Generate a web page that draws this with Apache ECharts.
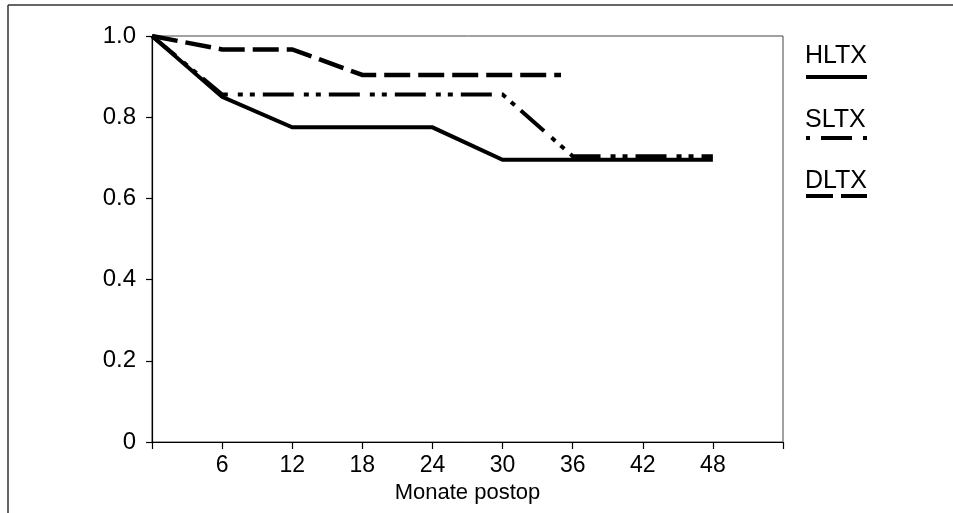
<!DOCTYPE html>
<html>
<head>
<meta charset="utf-8">
<script src="https://cdn.jsdelivr.net/npm/echarts@6/dist/echarts.min.js"></script>
<style>
  html, body { margin: 0; padding: 0; background: #fff; }
  #chart { width: 953px; height: 513px; }
</style>
</head>
<body>
<div id="chart"></div>
<script>
// Survival after lung transplantation, by procedure (months post-op)
const seriesNames = ['HLTX', 'SLTX', 'DLTX'];

const hltxMonths = [0, 6, 12, 24, 30, 48];
const hltxValues = [1.0, 0.85, 0.775, 0.775, 0.695, 0.695];

const sltxMonths = [0, 6, 30, 36, 48];
const sltxValues = [1.0, 0.856, 0.856, 0.704, 0.704];

const dltxMonths = [0, 6, 12, 18, 35];
const dltxValues = [1.0, 0.967, 0.967, 0.904, 0.904];

const xTicks = [6, 12, 18, 24, 30, 36, 42, 48];
const yTicks = [0, 0.2, 0.4, 0.6, 0.8, 1.0];

const FONT = '"Liberation Sans", Arial, Helvetica, sans-serif';

function pairs(xs, ys) { return xs.map((x, i) => [x, ys[i]]); }

const chart = echarts.init(document.getElementById('chart'), null, { renderer: 'canvas' });

const option = {
  animation: false,
  backgroundColor: '#fff',
  grid: {
    left: 152, right: 170, top: 36, bottom: 71,
    show: true, borderColor: '#444', borderWidth: 1, backgroundColor: 'transparent'
  },
  xAxis: {
    type: 'value', min: 0, max: 54, interval: 6,
    name: 'Monate postop', nameLocation: 'middle', nameGap: 35,
    nameTextStyle: { fontFamily: FONT, fontSize: 22, color: '#000' },
    axisLine: { show: true, onZero: false, lineStyle: { color: '#000', width: 1.2 } },
    axisTick: { show: true, inside: false, length: 7, lineStyle: { color: '#000', width: 1.2 } },
    axisLabel: {
      margin: 12, fontFamily: FONT, fontSize: 23, color: '#000',
      formatter: v => (xTicks.indexOf(v) >= 0 ? String(v) : '')
    },
    splitLine: { show: false }
  },
  yAxis: {
    type: 'value', min: 0, max: 1, interval: 0.2,
    axisLine: { show: true, lineStyle: { color: '#000', width: 1.2 } },
    axisTick: { show: true, inside: false, length: 6, lineStyle: { color: '#000', width: 1.2 } },
    axisLabel: {
      margin: 16, fontFamily: FONT, fontSize: 24, color: '#000',
      formatter: v => {
        const t = yTicks.find(k => Math.abs(k - v) < 1e-6);
        if (t === undefined) return '';
        return t === 0 ? '0' : t.toFixed(1);
      }
    },
    splitLine: { show: false }
  },
  series: [
    {
      name: seriesNames[0], type: 'line', data: pairs(hltxMonths, hltxValues),
      symbol: 'none', z: 3,
      lineStyle: { color: '#000', width: 4, type: 'solid', cap: 'butt', join: 'miter' }
    },
    {
      name: seriesNames[1], type: 'line', data: pairs(sltxMonths, sltxValues),
      symbol: 'none', z: 4,
      lineStyle: { color: '#000', width: 4, type: [31, 10, 5, 7, 5, 8], cap: 'butt', join: 'miter' }
    },
    {
      name: seriesNames[2], type: 'line', data: pairs(dltxMonths, dltxValues),
      symbol: 'none', z: 4,
      lineStyle: { color: '#000', width: 4.5, type: [26, 8], cap: 'butt', join: 'miter' }
    }
  ],
  graphic: [
    // outer frame
    { type: 'line', shape: { x1: 8, y1: 5, x2: 953, y2: 5 }, style: { stroke: '#333', lineWidth: 1.5 }, silent: true },
    { type: 'line', shape: { x1: 8, y1: 5, x2: 8, y2: 513 }, style: { stroke: '#333', lineWidth: 1.5 }, silent: true },
    // legend
    { type: 'text', left: 805, top: 44, style: { text: seriesNames[0], fontFamily: FONT, fontSize: 25, fill: '#000' } },
    { type: 'line', shape: { x1: 806, y1: 77, x2: 867, y2: 77 }, style: { stroke: '#000', lineWidth: 4 } },
    { type: 'text', left: 805, top: 108, style: { text: seriesNames[1], fontFamily: FONT, fontSize: 25, fill: '#000' } },
    { type: 'line', shape: { x1: 806, y1: 138, x2: 867, y2: 138 }, style: { stroke: '#000', lineWidth: 4, lineDash: [4, 11, 31, 11, 4, 100] } },
    { type: 'text', left: 805, top: 169, style: { text: seriesNames[2], fontFamily: FONT, fontSize: 25, fill: '#000' } },
    { type: 'line', shape: { x1: 806, y1: 196, x2: 867, y2: 196 }, style: { stroke: '#000', lineWidth: 4, lineDash: [27, 8, 27, 100] } }
  ]
};

chart.setOption(option);
</script>
</body>
</html>
